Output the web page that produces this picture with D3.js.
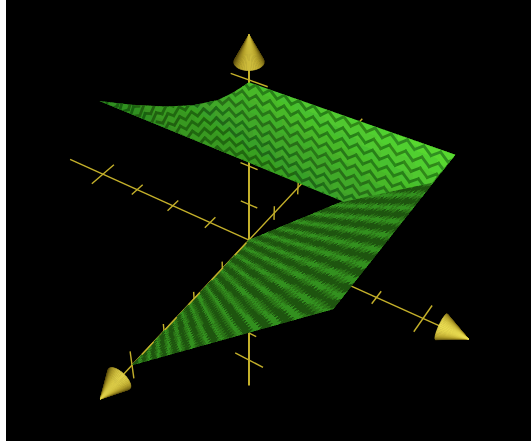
<!DOCTYPE html>
<html>
<head>
<meta charset="utf-8">
<script src="https://cdn.jsdelivr.net/npm/d3@7"></script>
<style>
  html, body { margin: 0; padding: 0; background: #fff; overflow: hidden; }
  svg { display: block; }
</style>
</head>
<body>
<script>
var width = 531, height = 443;

// axis data, in model units
var axisTicks = [-4, -3, -2, -1, 1, 2, 3, 4];
var axisEnds = [-5, 4.4];
var coneEnds = [4.38, 4.93];

// upper sheet outline (z = 0)
var topX = [-3.8, -2.9, -2, -1.3, -0.7, -0.35, 0, 4];
var topY = [2.1, 2.35, 2.65, 2.95, 3.3, 3.6, 3.95, 4];
var bottomX = [4, 3.7, 2.1, -3.8];
var bottomY = [4, 3.27, 2.08, 2.1];

// lower sheet is the plane y = x
var lowerX = [0, 4];
var lowerZ = [0, 4];

// shades
var upperBright = ["#2f8a1e", "#3fa826", "#56d932"];
var upperDark = ["#1a5c10", "#246f15", "#2f8f1d"];
var lowerShades = ["#1f5510", "#2a7417", "#33901f"];
var coneShades = ["#5a4c0c", "#b9a52c", "#f9ec5c"];

// perspective, fitted to the tick spacing on the three axes
var origin = [249, 240];
function depth(p) {
  return 1 - 0.0219 * p[0] - 0.0357 * p[1] - 0.0286 * p[2];
}
function project(p) {
  var w = depth(p);
  return [
    origin[0] + (39.7 * p[0] - 25.9 * p[2]) / w,
    origin[1] + (17.9 * p[0] - 34.3 * p[1] + 27.7 * p[2]) / w
  ];
}

var line3d = d3.line().x(function(p) { return project(p)[0]; })
                      .y(function(p) { return project(p)[1]; });

var svg = d3.select("body").append("svg")
    .attr("width", width)
    .attr("height", height);

svg.append("rect")
    .attr("x", 6).attr("y", 0)
    .attr("width", width - 6).attr("height", 441)
    .attr("fill", "black");

function axisPoint(axis, t) {
  var p = [0, 0, 0];
  p[axis] = t;
  return p;
}

// axes
var axes = svg.append("g")
    .attr("fill", "none")
    .attr("stroke", "#c4b02a");

[0, 1, 2].forEach(function(axis) {
  axes.append("path")
      .attr("stroke-width", axis == 1 ? 2 : 1.4)
      .attr("d", line3d(axisEnds.map(function(t) { return axisPoint(axis, t); })));

  // tick direction: x ticks run along z, y ticks along x, z ticks along y
  var across = [2, 0, 1][axis];
  axisTicks.forEach(function(t) {
    var half = Math.abs(t) == 4 ? 0.4 : 0.2;
    var a = axisPoint(axis, t), b = axisPoint(axis, t);
    a[across] = -half;
    b[across] = half;
    axes.append("path")
        .attr("stroke-width", 1.4)
        .attr("d", line3d([a, b]));
  });
});

function tri(n) {
  var m = ((n % 4) + 4) % 4;
  return m == 3 ? 1 : m;
}

// merge the cells by colour so that the page keeps a sane element count
function drawCells(parent, cells) {
  var byColor = d3.rollup(cells, function(v) {
    var path = d3.path();
    v.forEach(function(c) {
      var q = c.corners.map(project);
      path.moveTo(q[0][0], q[0][1]);
      path.lineTo(q[1][0], q[1][1]);
      path.lineTo(q[2][0], q[2][1]);
      path.lineTo(q[3][0], q[3][1]);
      path.closePath();
    });
    return path.toString();
  }, function(c) { return c.color; });
  byColor.forEach(function(d, color) {
    parent.append("path")
        .attr("d", d)
        .attr("fill", color)
        .attr("stroke", color)
        .attr("stroke-width", 0.4)
        .attr("shape-rendering", "crispEdges");
  });
}

function roundColor(c) {
  var rgb = d3.rgb(c);
  return d3.rgb(Math.round(rgb.r / 8) * 8, Math.round(rgb.g / 8) * 8, Math.round(rgb.b / 8) * 8).formatHex();
}

// lower sheet
var lowerColor = d3.scaleLinear().domain([0, 0.5, 1]).range(lowerShades);
var lowerCells = [];
var nLower = 90;
d3.range(nLower).forEach(function(i) {
  d3.range(nLower).forEach(function(j) {
    var x0 = lowerX[0] + (lowerX[1] - lowerX[0]) * i / nLower,
        x1 = lowerX[0] + (lowerX[1] - lowerX[0]) * (i + 1) / nLower,
        z0 = lowerZ[0] + (lowerZ[1] - lowerZ[0]) * j / nLower,
        z1 = lowerZ[0] + (lowerZ[1] - lowerZ[0]) * (j + 1) / nLower;
    // stripes fan out from the near tip
    var start = (z0 - 0.85 * x0) / (1 + 0.09 * x0);
    var phase = 3.7 * start + 0.1 * tri(i + j);
    var c = 0.5 + 0.5 * Math.cos(2 * Math.PI * phase);
    var level = c < 0.3 ? 0 : c < 0.72 ? 0.5 : 1;
    lowerCells.push({
      color: lowerColor(level),
      corners: [[x0, x0, z0], [x1, x1, z0], [x1, x1, z1], [x0, x0, z1]]
    });
  });
});
svg.append("path")
    .attr("fill", lowerShades[1])
    .attr("d", line3d([[0, 0, 0], [4, 4, 0], [4, 4, 4], [0, 0, 4]]) + "Z");
drawCells(svg.append("g"), lowerCells);

// near part of the z axis shows through the surface edge in pieces
svg.append("path")
    .attr("fill", "none")
    .attr("stroke", "#c4b02a")
    .attr("stroke-width", 1.4)
    .attr("stroke-dasharray", "17 17")
    .attr("d", line3d([[0, 0, 0.1], [0, 0, 4]]));

// upper sheet, clipped to its outline
var outline = topX.map(function(x, i) { return [x, topY[i], 0]; })
    .concat(bottomX.map(function(x, i) { return [x, bottomY[i], 0]; }));

svg.append("clipPath").attr("id", "upper-clip")
  .append("path")
    .attr("d", line3d(outline) + "Z");

var brightColor = d3.scaleLinear().domain([0, 0.55, 1]).range(upperBright).clamp(true);
var darkColor = d3.scaleLinear().domain([0, 0.55, 1]).range(upperDark).clamp(true);

function litAt(x, y) {
  return Math.min(1, Math.max(0, (x + 3.8) / 7.8 * 0.55 + (y - 2) / 2 * 0.5));
}

// bright base of the upper sheet
var upperCells = [];
var stepX = 0.125, stepY = 0.1;
d3.range(-3.9, 4.05, stepX).forEach(function(x) {
  d3.range(2, 4.1, stepY).forEach(function(y) {
    upperCells.push({
      color: roundColor(brightColor(litAt(x, y))),
      corners: [[x, y, 0], [x + stepX, y, 0], [x + stepX, y + stepY, 0], [x, y + stepY, 0]]
    });
  });
});
var upperGroup = svg.append("g").attr("clip-path", "url(#upper-clip)");
drawCells(upperGroup, upperCells);

// dark zigzag bands running along the sheet, bending up over the left part
var zigStep = 0.15, zigAmp = 0.07, bandGap = 0.235;
var zigSegments = [];
d3.range(2, 8, bandGap).forEach(function(start) {
  d3.range(-3.9, 4.05, zigStep).forEach(function(x, i) {
    var yAt = function(px, k) {
      var bend = px < 0 ? 1.1 * px * px / 4.25 : 0;
      return start - bend + (k % 2 ? zigAmp : -zigAmp);
    };
    var a = [x, yAt(x, i), 0], b = [x + zigStep, yAt(x + zigStep, i + 1), 0];
    if (a[1] < 1.9 || a[1] > 4.2) return;
    zigSegments.push({ pts: [a, b], color: roundColor(darkColor(litAt(x, a[1]))) });
  });
});
d3.group(zigSegments, function(s) { return s.color; }).forEach(function(list, color) {
  upperGroup.append("path")
      .attr("fill", "none")
      .attr("stroke", color)
      .attr("stroke-width", 2.8)
      .attr("stroke-linecap", "square")
      .attr("d", list.map(function(s) { return line3d(s.pts); }).join(""));
});

// arrow cones
var coneColor = d3.scaleLinear().domain([0, 0.55, 1]).range(coneShades);
var light = [0.43, 0.7, 0.56];
var angleStep = Math.PI / 24;
var angles = d3.range(0, 2 * Math.PI, angleStep);
var coneRadius = 0.27;

[0, 1, 2].forEach(function(axis) {
  var u = (axis + 1) % 3, v = (axis + 2) % 3;
  var facets = angles.map(function(a) {
    var p0 = axisPoint(axis, coneEnds[0]), p1 = axisPoint(axis, coneEnds[0]);
    p0[u] = coneRadius * Math.cos(a); p0[v] = coneRadius * Math.sin(a);
    p1[u] = coneRadius * Math.cos(a + angleStep); p1[v] = coneRadius * Math.sin(a + angleStep);
    var n = [0, 0, 0];
    n[u] = Math.cos(a + angleStep / 2); n[v] = Math.sin(a + angleStep / 2);
    var dot = n[0] * light[0] + n[1] * light[1] + n[2] * light[2];
    return { pts: [axisPoint(axis, coneEnds[1]), p0, p1], dot: dot, w: depth(p0) };
  });
  facets.sort(function(a, b) { return b.w - a.w; });
  var g = svg.append("g");
  facets.forEach(function(f) {
    var c = coneColor(Math.max(0, f.dot));
    g.append("path")
        .attr("d", line3d(f.pts) + "Z")
        .attr("fill", c)
        .attr("stroke", c)
        .attr("stroke-width", 0.6);
  });
});
</script>
</body>
</html>
